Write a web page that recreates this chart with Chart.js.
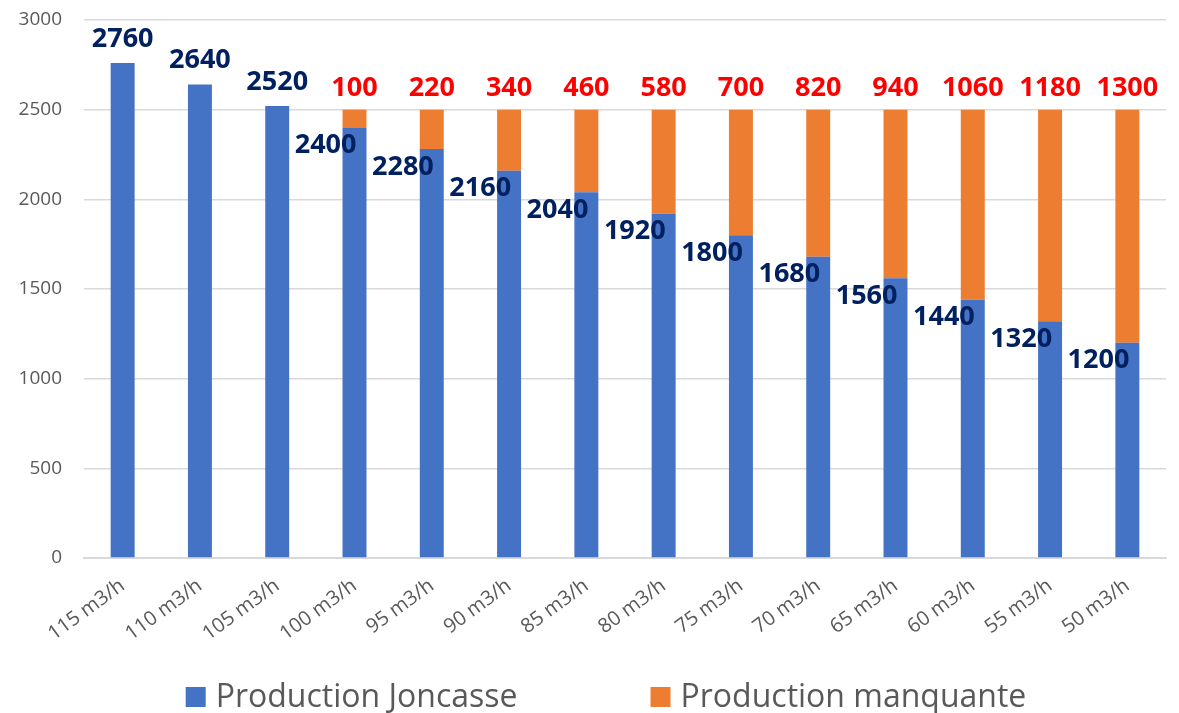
<!DOCTYPE html>
<html>
<head>
<meta charset="utf-8">
<script src="https://cdn.jsdelivr.net/npm/chart.js@4/dist/chart.umd.min.js"></script>
<style>
  html, body { margin: 0; padding: 0; background: #ffffff; }
  #wrap { width: 1179px; height: 713px; position: relative; }
</style>
</head>
<body>
<div id="wrap"><canvas id="c" width="1179" height="713"></canvas></div>
<script>
const categories = ['115 m3/h','110 m3/h','105 m3/h','100 m3/h','95 m3/h','90 m3/h','85 m3/h','80 m3/h','75 m3/h','70 m3/h','65 m3/h','60 m3/h','55 m3/h','50 m3/h'];
const joncasse = [2760, 2640, 2520, 2400, 2280, 2160, 2040, 1920, 1800, 1680, 1560, 1440, 1320, 1200];
const manquante = [0, 0, 0, 100, 220, 340, 460, 580, 700, 820, 940, 1060, 1180, 1300];
const seriesNames = ['Production Joncasse', 'Production manquante'];
const yTicks = [0, 500, 1000, 1500, 2000, 2500, 3000];

const labelPlugin = {
  id: 'valueLabels',
  afterDatasetsDraw(chart) {
    const ctx = chart.ctx;
    const m0 = chart.getDatasetMeta(0);
    const m1 = chart.getDatasetMeta(1);
    ctx.save();
    ctx.font = 'bold 27px "Open Sans", sans-serif';
    ctx.textBaseline = 'middle';
    for (let i = 0; i < categories.length; i++) {
      const b = m0.data[i];
      if (manquante[i] > 0) {
        const o = m1.data[i];
        ctx.fillStyle = '#FF0000';
        ctx.textAlign = 'center';
        ctx.fillText(String(manquante[i]), o.x, o.y - 21);
        ctx.fillStyle = '#002060';
        ctx.textAlign = 'right';
        ctx.fillText(String(joncasse[i]), b.x + 2, b.y + 18);
      } else {
        ctx.fillStyle = '#002060';
        ctx.textAlign = 'center';
        ctx.fillText(String(joncasse[i]), b.x, b.y - 24);
      }
    }
    ctx.restore();
  }
};

// Bottom legend drawn on the canvas (wide gap between the two entries)
const legendPlugin = {
  id: 'wideLegend',
  afterDraw(chart) {
    const ctx = chart.ctx;
    const ds = chart.data.datasets;
    const box = 20, gapBoxText = 10, gapItems = 133;
    const cy = 697;
    ctx.save();
    ctx.font = '32px "Open Sans", sans-serif';
    ctx.textBaseline = 'middle';
    ctx.textAlign = 'left';
    const widths = ds.map(d => box + gapBoxText + ctx.measureText(d.label).width);
    const total = widths.reduce((a, b) => a + b, 0) + gapItems * (ds.length - 1);
    let x = 606 - total / 2;
    ds.forEach((d, i) => {
      ctx.fillStyle = d.backgroundColor;
      ctx.fillRect(x, cy - box / 2, box, box);
      ctx.fillStyle = '#595959';
      ctx.fillText(d.label, x + box + gapBoxText, cy + 1);
      x += widths[i] + gapItems;
    });
    ctx.restore();
  }
};

new Chart(document.getElementById('c'), {
  type: 'bar',
  data: {
    labels: categories,
    datasets: [
      { label: seriesNames[0], data: joncasse, backgroundColor: '#4472C4', borderWidth: 0,
        barPercentage: 0.31, categoryPercentage: 1.0 },
      { label: seriesNames[1], data: manquante, backgroundColor: '#ED7D31', borderWidth: 0,
        barPercentage: 0.31, categoryPercentage: 1.0 }
    ]
  },
  options: {
    responsive: false,
    animation: false,
    devicePixelRatio: 1,
    layout: { padding: { left: 0, right: 13, top: 20, bottom: 2 } },
    plugins: {
      legend: { display: false },
      tooltip: { enabled: false }
    },
    scales: {
      x: {
        stacked: true,
        afterFit(scale) { scale.height = 153; },
        grid: { display: false, drawTicks: false },
        border: { display: true, color: '#d9d9d9', width: 2 },
        ticks: {
          color: '#595959',
          font: { family: '"Open Sans", sans-serif', size: 20 },
          minRotation: 36, maxRotation: 36, padding: 16
        }
      },
      y: {
        stacked: true,
        min: 0, max: 3000,
        afterBuildTicks(scale) { scale.ticks = yTicks.map(v => ({ value: v })); },
        afterFit(scale) { scale.width = 84; scale.paddingTop = 0; },
        grid: { color: '#d9d9d9', lineWidth: 1.5, drawTicks: false },
        border: { display: false },
        ticks: {
          color: '#595959',
          font: { family: '"Open Sans", sans-serif', size: 19 },
          padding: 22,
          callback: v => String(v)
        }
      }
    }
  },
  plugins: [labelPlugin, legendPlugin]
});
</script>
</body>
</html>
